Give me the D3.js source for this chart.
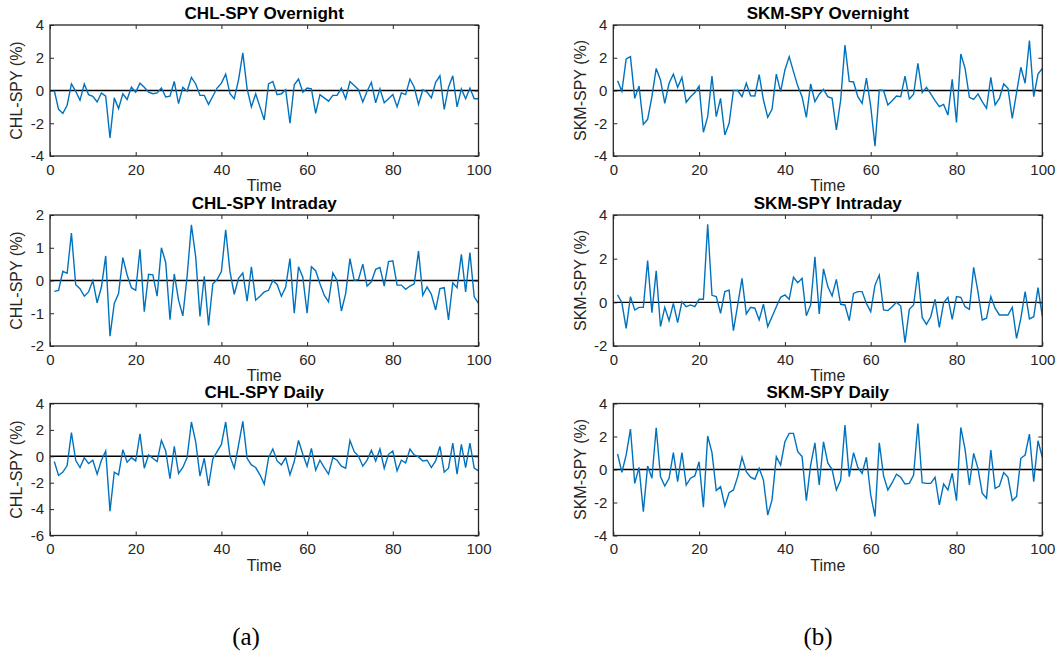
<!DOCTYPE html>
<html>
<head>
<meta charset="utf-8">
<script src="https://cdn.jsdelivr.net/npm/d3@7"></script>
<style>
  html, body { margin: 0; padding: 0; background: #fff; }
  svg { display: block; }
</style>
</head>
<body>
<svg id="chart" width="1060" height="662"></svg>
<script>
// ---------- data ----------
const time = d3.range(1, 101);
const xTicks = [0, 20, 40, 60, 80, 100];

const chlOvernight = [0.0,-1.15,-1.4,-0.9,0.4,-0.05,-0.6,0.4,-0.25,-0.35,
  -0.7,-0.15,-0.35,-2.9,-0.45,-1.1,-0.2,-0.55,0.2,-0.1,
  0.45,0.2,-0.1,-0.2,-0.15,0.15,-0.4,-0.35,0.55,-0.8,
  0.2,-0.05,0.8,0.4,-0.3,-0.3,-0.85,-0.35,0.15,0.45,
  1.0,-0.2,-0.5,0.65,2.3,0.1,-1.0,-0.2,-1.0,-1.8,
  0.4,0.55,-0.25,-0.2,0.05,-2.0,0.35,0.7,-0.1,0.15,
  0.1,-1.4,-0.25,-0.45,-0.65,-0.3,-0.3,0.15,-0.5,0.55,
  0.3,0.05,-0.7,-0.05,0.5,-0.75,0.1,-0.75,-0.5,-0.25,
  -1.0,-0.15,-0.25,0.7,0.2,-0.85,0.05,-0.1,-0.45,0.5,
  0.9,-1.15,0.2,0.9,-1.0,0.1,-0.5,0.15,-0.5,-0.5];

const chlIntraday = [-0.33,-0.3,0.28,0.22,1.45,-0.13,-0.25,-0.48,-0.35,0.0,
  -0.68,-0.2,0.75,-1.7,-0.7,-0.4,0.7,0.17,-0.22,-0.3,
  0.95,-0.95,0.19,0.17,-0.48,1.0,0.55,-1.2,0.2,-0.6,
  -1.08,0.13,1.7,0.72,-1.1,0.13,-1.37,-0.1,0.03,0.27,
  1.55,0.27,-0.42,0.07,0.23,-0.63,0.42,-0.6,-0.48,-0.35,
  -0.3,0.0,-0.12,-0.48,-0.2,0.67,-1.0,0.42,0.1,-1.0,
  0.42,0.3,-0.1,-0.45,-0.65,0.23,0.0,-0.93,-0.4,0.67,
  0.0,0.03,0.5,-0.17,-0.04,0.34,0.4,-0.17,0.58,0.6,
  -0.14,-0.14,-0.27,-0.17,-0.1,0.9,-0.45,-0.2,-0.42,-0.9,
  -0.25,-0.22,-1.2,-0.07,-0.22,0.8,-0.35,0.85,-0.5,-0.7];

const chlDaily = [-0.4,-1.45,-1.2,-0.7,1.8,-0.3,-0.85,-0.1,-0.55,-0.3,
  -1.35,-0.3,0.4,-4.15,-1.2,-1.4,0.5,-0.45,-0.1,-0.35,
  1.7,-0.9,0.1,-0.15,-0.4,1.2,0.4,-1.7,0.75,-1.3,
  -0.85,-0.1,2.6,1.1,-1.5,-0.15,-2.25,-0.2,0.35,0.9,
  2.6,0.0,-0.9,0.85,2.65,-0.15,-0.65,-0.85,-1.4,-2.1,
  -0.1,0.55,-0.35,-0.65,-0.1,-1.4,-0.4,1.2,0.15,-0.75,
  0.6,-1.05,-0.3,-0.85,-1.35,-0.1,-0.3,-0.75,-0.9,1.2,
  0.35,0.0,-0.75,-0.3,0.45,-0.35,0.55,-0.9,0.15,0.4,
  -1.1,-0.3,-0.5,0.55,0.1,-0.05,-0.35,-0.3,-0.85,-0.35,
  0.75,-1.2,-0.9,1.0,-1.35,0.9,-0.85,1.0,-0.9,-1.1];

const skmOvernight = [0.6,-0.05,1.93,2.07,-0.48,0.27,-2.07,-1.76,-0.38,1.35,
  0.64,-0.78,0.44,1.0,0.2,0.8,-0.72,-0.38,-0.13,0.27,
  -2.55,-1.6,0.88,-1.6,-0.48,-2.72,-2.0,0.0,0.0,-0.38,
  0.44,-0.32,-0.33,0.97,-0.58,-1.64,-1.15,1.0,-0.07,1.25,
  2.07,1.15,0.27,-0.38,-1.64,0.4,-0.68,-0.23,0.07,-0.38,
  -0.48,-2.4,-0.58,2.78,0.56,0.52,-0.38,-0.78,0.76,-0.95,
  -3.4,0.03,0.0,-0.88,-0.62,-0.34,-0.38,0.88,-0.52,-0.23,
  1.66,-0.13,0.19,-0.21,-0.62,-0.99,-0.85,-1.5,0.68,-1.95,
  2.23,1.35,-0.42,-0.54,-0.21,-0.68,-1.09,0.8,-0.88,-0.48,
  0.4,0.13,-1.7,-0.13,1.42,0.44,3.05,-0.38,1.0,1.35];

const skmIntraday = [0.34,-0.02,-1.19,0.26,-0.35,-0.23,-0.23,1.91,-0.47,1.44,
  -1.11,-0.23,-0.84,-0.05,-0.93,0.03,-0.2,-0.12,-0.2,0.14,
  0.14,3.57,0.32,0.26,-0.5,0.49,0.56,-1.3,-0.12,1.1,
  -0.53,-0.23,-0.27,-0.81,-0.08,-1.11,-0.66,-0.2,0.23,0.34,
  0.14,1.15,0.9,1.1,-0.61,-0.12,2.09,-0.53,1.53,0.72,
  0.29,1.05,-0.09,-0.12,-0.84,0.41,0.49,0.49,-0.05,-0.43,
  0.79,1.25,-0.35,-0.38,-0.2,0.0,-0.17,-1.85,-0.32,-0.12,
  1.4,-0.69,-1.01,-0.66,0.14,-1.15,-0.02,0.23,-0.78,0.26,
  0.23,-0.2,-0.32,1.6,0.49,-0.81,-0.73,0.26,-0.27,-0.58,
  -0.58,-0.58,-0.23,-1.65,-0.73,0.49,-0.76,-0.66,0.67,-0.63];

const skmDaily = [0.94,-0.17,0.88,2.45,-0.84,0.13,-2.55,0.21,-0.53,2.53,
  -0.43,-1.0,-0.53,1.02,-0.74,1.02,-0.94,-0.53,-0.39,0.47,
  -2.29,2.03,1.02,-1.28,-1.04,-2.21,-1.4,-1.24,-0.43,0.74,
  -0.13,-0.47,-0.59,0.07,-0.64,-2.76,-1.84,0.78,0.27,1.68,
  2.19,2.19,1.08,0.78,-1.89,0.27,1.62,-0.94,1.68,0.4,
  0.0,-1.24,-0.64,2.69,-0.43,1.02,0.13,-0.23,0.74,-1.54,
  -2.85,1.62,-0.39,-1.24,-0.8,-0.29,-0.47,-0.88,-0.84,-0.33,
  2.79,-0.8,-0.84,-0.84,-0.47,-2.15,-0.88,-1.24,-0.23,-1.89,
  2.55,1.22,-0.94,0.98,0.07,-1.44,-1.74,1.18,-1.14,-1.0,
  -0.19,-0.47,-1.89,-1.64,0.68,0.88,2.15,-0.74,1.74,0.74];

const titles = ["CHL-SPY Overnight","CHL-SPY Intraday","CHL-SPY Daily",
                "SKM-SPY Overnight","SKM-SPY Intraday","SKM-SPY Daily"];
const yLabels = ["CHL-SPY (%)","CHL-SPY (%)","CHL-SPY (%)",
                 "SKM-SPY (%)","SKM-SPY (%)","SKM-SPY (%)"];
const yDomains = [[-4,4],[-2,2],[-6,4],[-4,4],[-2,4],[-4,4]];
const yTicks = [[-4,-2,0,2,4],[-2,-1,0,1,2],[-6,-4,-2,0,2,4],
                [-4,-2,0,2,4],[-2,0,2,4],[-4,-2,0,2,4]];
const series = [chlOvernight, chlIntraday, chlDaily, skmOvernight, skmIntraday, skmDaily];
const captions = ["(a)", "(b)"];

// ---------- layout ----------
const colX = [[50, 478.5], [613.3, 1042.3]];
const rowY = [[25, 156], [215, 346], [403.5, 535.5]];
const axisColor = "#262626";
const sans = '"Liberation Sans", Arial, Helvetica, sans-serif';
const fmt = d => String(d);

const svg = d3.select("#chart");

series.forEach((vals, i) => {
  const col = Math.floor(i / 3), row = i % 3;
  const [x0, x1] = colX[col], [y0, y1] = rowY[row];
  const x = d3.scaleLinear().domain([0, 100]).range([x0, x1]);
  const y = d3.scaleLinear().domain(yDomains[i]).range([y1, y0]);
  const g = svg.append("g");

  // zero line
  g.append("line")
    .attr("x1", x(0)).attr("x2", x(100))
    .attr("y1", y(0)).attr("y2", y(0))
    .attr("stroke", "#000").attr("stroke-width", 1.4);

  // data line
  const line = d3.line().x((d, k) => x(time[k])).y(d => y(d));
  g.append("path").datum(vals)
    .attr("d", line)
    .attr("fill", "none")
    .attr("stroke", "#0072BD")
    .attr("stroke-width", 1.4)
    .attr("stroke-linejoin", "miter");

  // axes
  const styleAxis = sel => {
    sel.select(".domain").remove();
    sel.selectAll(".tick line").attr("stroke", axisColor).attr("stroke-width", 1);
    sel.selectAll(".tick text").attr("fill", axisColor)
      .style("font-size", "15px").style("font-family", sans);
  };
  g.append("g").attr("transform", `translate(0,${y1})`)
    .call(d3.axisBottom(x).tickValues(xTicks).tickFormat(fmt).tickSize(-4).tickPadding(8))
    .call(styleAxis);
  g.append("g").attr("transform", `translate(0,${y0})`)
    .call(d3.axisTop(x).tickValues(xTicks).tickSize(-4).tickFormat(""))
    .call(styleAxis);
  g.append("g").attr("transform", `translate(${x0},0)`)
    .call(d3.axisLeft(y).tickValues(yTicks[i]).tickFormat(fmt).tickSize(-4).tickPadding(6))
    .call(styleAxis);
  g.append("g").attr("transform", `translate(${x1},0)`)
    .call(d3.axisRight(y).tickValues(yTicks[i]).tickSize(-4).tickFormat(""))
    .call(styleAxis);

  // box
  g.append("rect")
    .attr("x", x0).attr("y", y0).attr("width", x1 - x0).attr("height", y1 - y0)
    .attr("fill", "none").attr("stroke", axisColor).attr("stroke-width", 1.3);

  // title
  g.append("text")
    .attr("x", (x0 + x1) / 2).attr("y", y0 - 6)
    .attr("text-anchor", "middle")
    .style("font-family", sans).style("font-size", "17px").style("font-weight", "bold")
    .attr("fill", "#000")
    .text(titles[i]);

  // x label
  g.append("text")
    .attr("x", (x0 + x1) / 2).attr("y", y1 + 35)
    .attr("text-anchor", "middle")
    .style("font-family", sans).style("font-size", "16px")
    .attr("fill", axisColor)
    .text("Time");

  // y label
  const lx = col === 0 ? 22 : 585.5;
  g.append("text")
    .attr("transform", `translate(${lx},${(y0 + y1) / 2}) rotate(-90)`)
    .attr("text-anchor", "middle")
    .style("font-family", sans).style("font-size", "16px")
    .attr("fill", axisColor)
    .text(yLabels[i]);
});

// captions
captions.forEach((c, k) => {
  svg.append("text")
    .attr("x", k === 0 ? 246 : 818).attr("y", 645)
    .attr("text-anchor", "middle")
    .style("font-family", '"Liberation Serif", "DejaVu Serif", serif')
    .style("font-size", "25px")
    .attr("fill", "#000")
    .text(c);
});
</script>
</body>
</html>
